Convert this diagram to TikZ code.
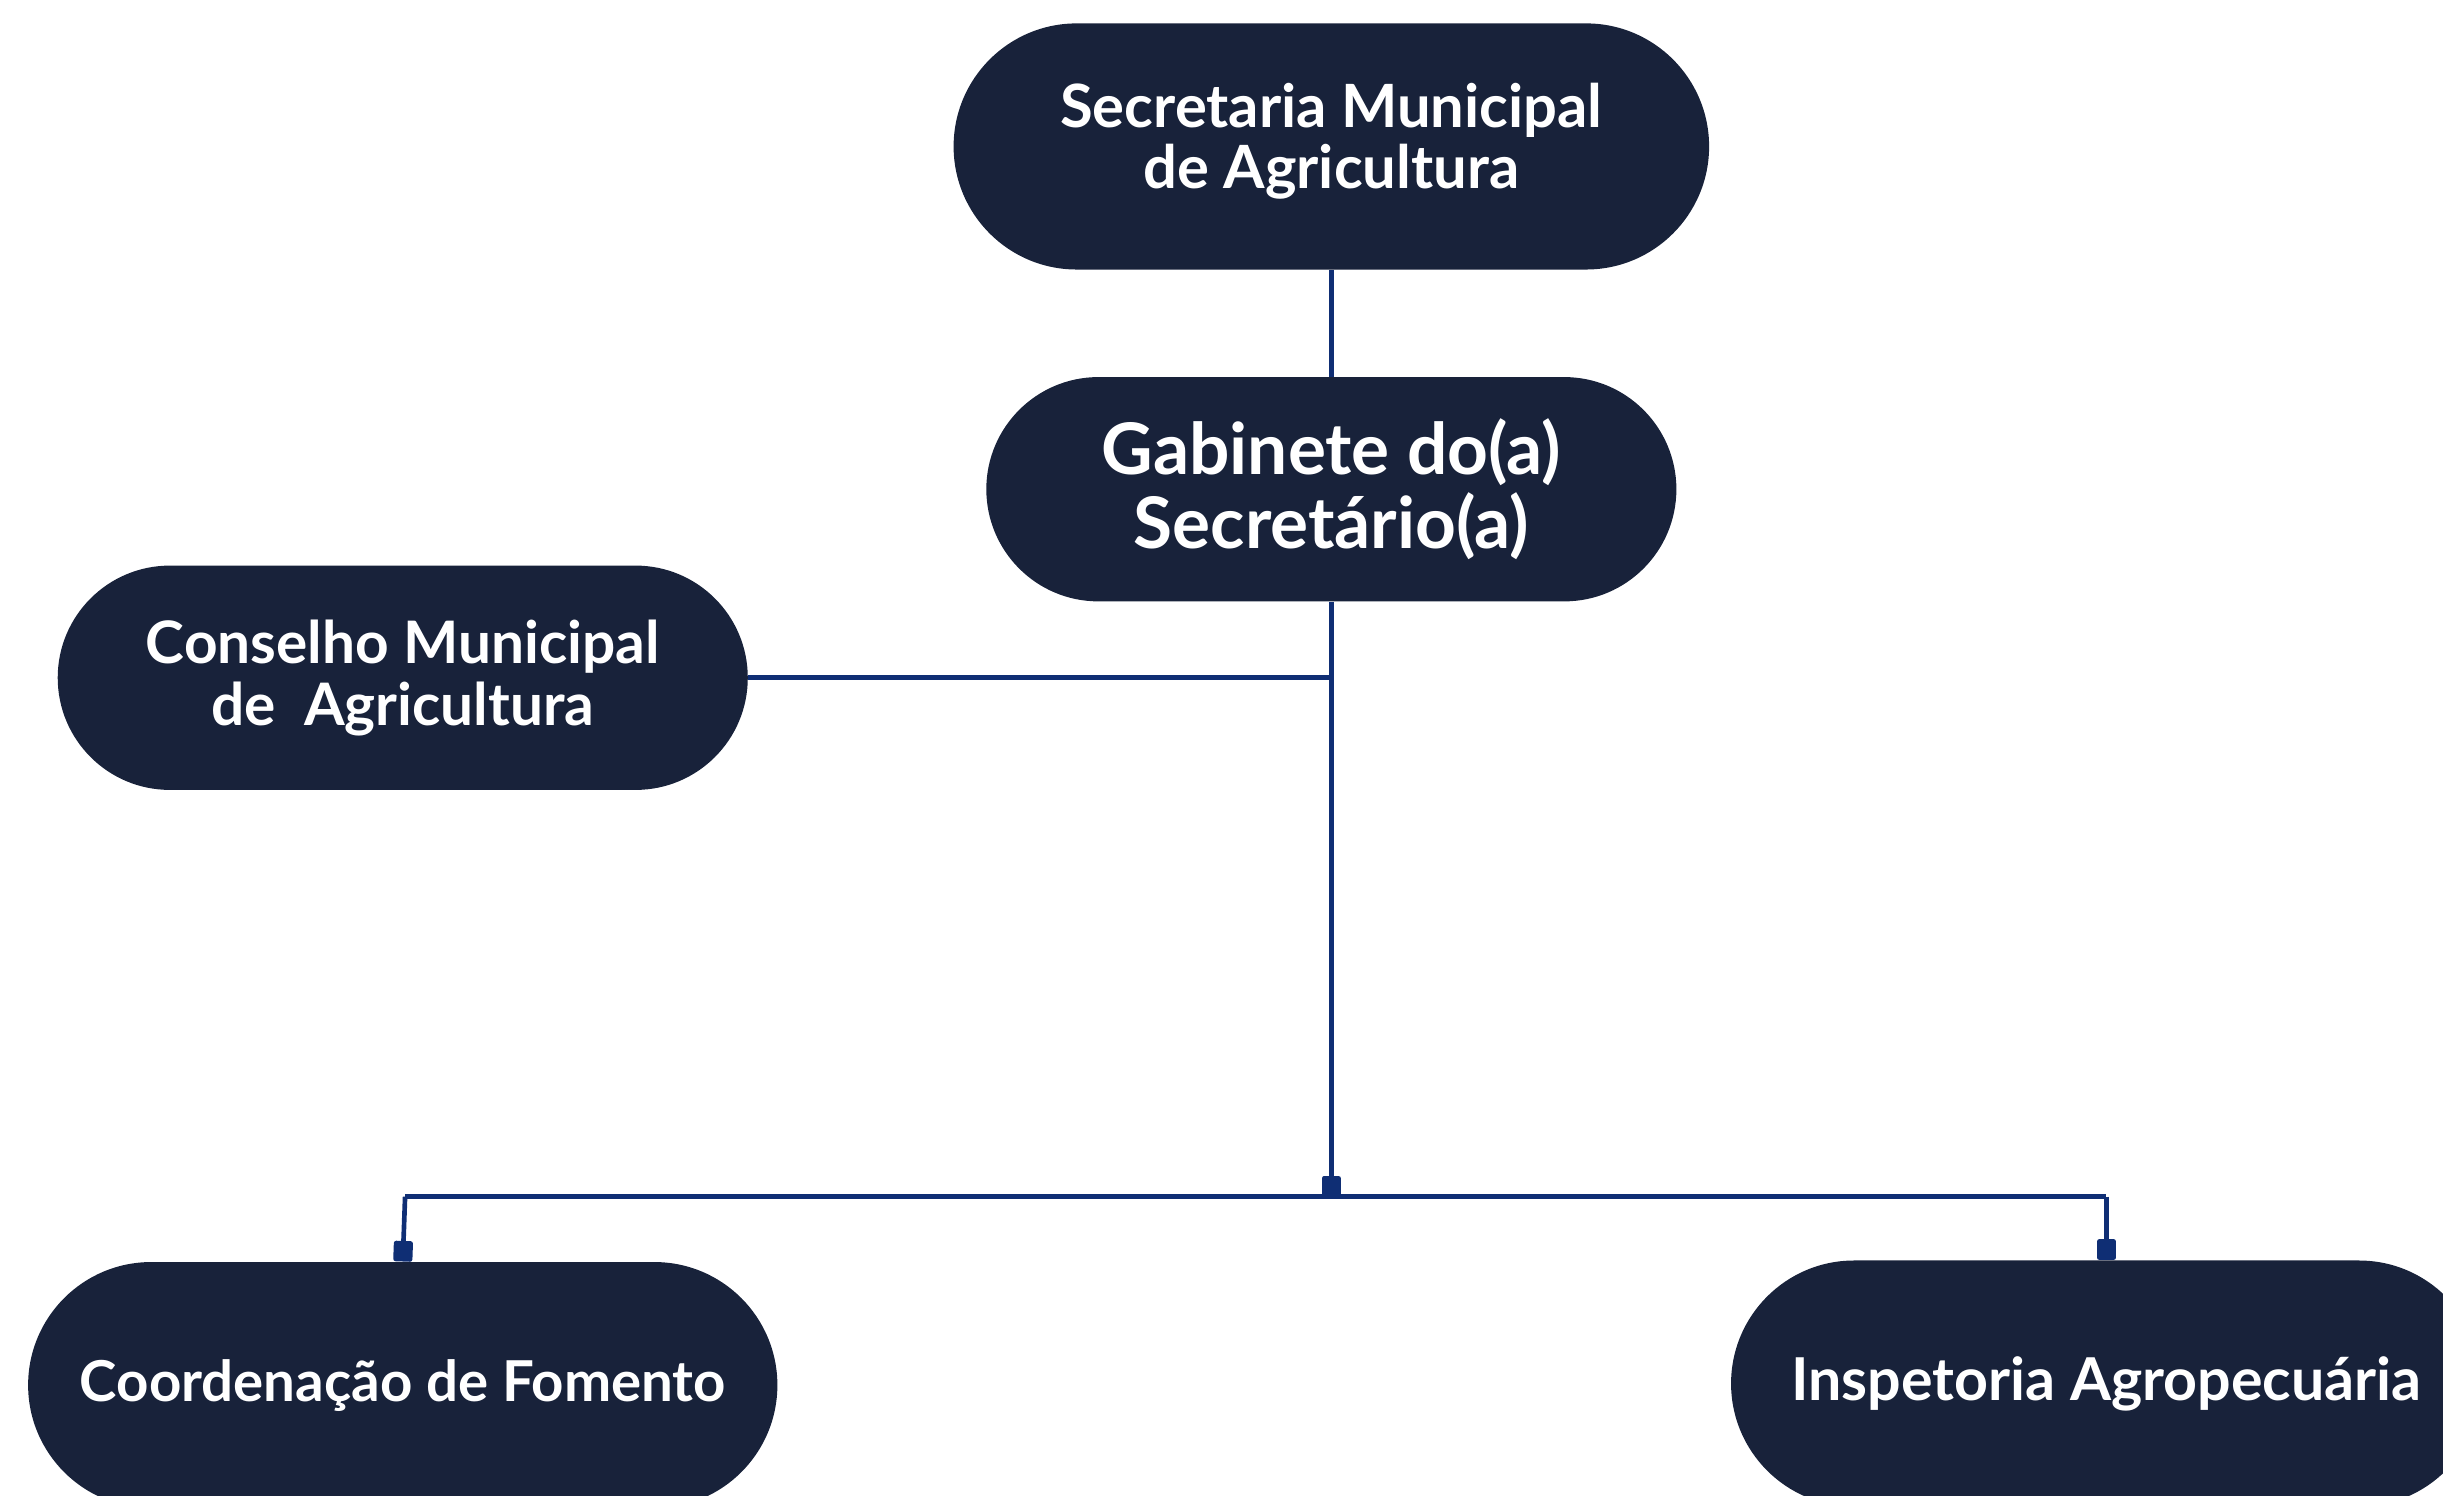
\documentclass[tikz,border=0pt]{standalone}
\usepackage{fontspec}
\setmainfont{Lato}
\usetikzlibrary{arrows.meta, positioning}

\definecolor{unitnavy}{HTML}{18223A}
\definecolor{linkblue}{HTML}{0F2E74}

\begin{document}
\begin{tikzpicture}[
        x=0.02cm, y=-0.02cm,
        unit/.style={rectangle, fill=unitnavy, text=white, align=center,
            inner sep=0pt, minimum width=#1},
        tall/.style={minimum height=3.16cm, rounded corners=1.58cm},
        short/.style={minimum height=2.88cm, rounded corners=1.44cm},
        link/.style={draw=linkblue, line width=1.7pt},
        plug/.style={-{Square[length=7.5pt, width=7pt, round]}}
    ]
        \useasboundingbox (0,0) rectangle (1568,960);

        % Direcao
        \node [unit=9.7cm, tall, text depth=8pt, font={\bfseries\fontsize{21.8}{22.2}\selectfont}] (sec) at (854.5,94)
            {Secretaria Municipal\\de Agricultura};
        \node [unit=8.86cm, short, font={\bfseries\fontsize{26}{26.7}\selectfont}] (gab) at (854.5,314)
            {Gabinete do(a)\\Secretário(a)};
        \node [unit=8.86cm, short, font={\bfseries\fontsize{21.4}{22.8}\selectfont}] (cons) at (258.5,435)
            {Conselho Municipal\\de\ \ Agricultura};

        % Unidades
        \node [unit=9.62cm, tall, font={\bfseries\fontsize{20.6}{22}\selectfont}] (coord) at (258.5,889)
            {Coordenação de Fomento};
        \node [unit=9.64cm, tall, font={\bfseries\fontsize{21.6}{22}\selectfont}] (insp) at (1352,888)
            {Inspetoria Agropecuária};

        \coordinate (hub) at (854.5,768);
        \coordinate (busL) at (260,768);
        \coordinate (busR) at (1352,768);

        \path [link] (sec) -- (gab);
        \path [link, plug] (gab.south) -- (hub);
        \path [link] (cons.east) -- (cons.east -| hub);
        \path [link] (busL) -- (busR);
        \path [link, plug] (busL) -- (coord.north);
        \path [link, plug] (busR) -- (insp.north);

    \end{tikzpicture}
\end{document}
